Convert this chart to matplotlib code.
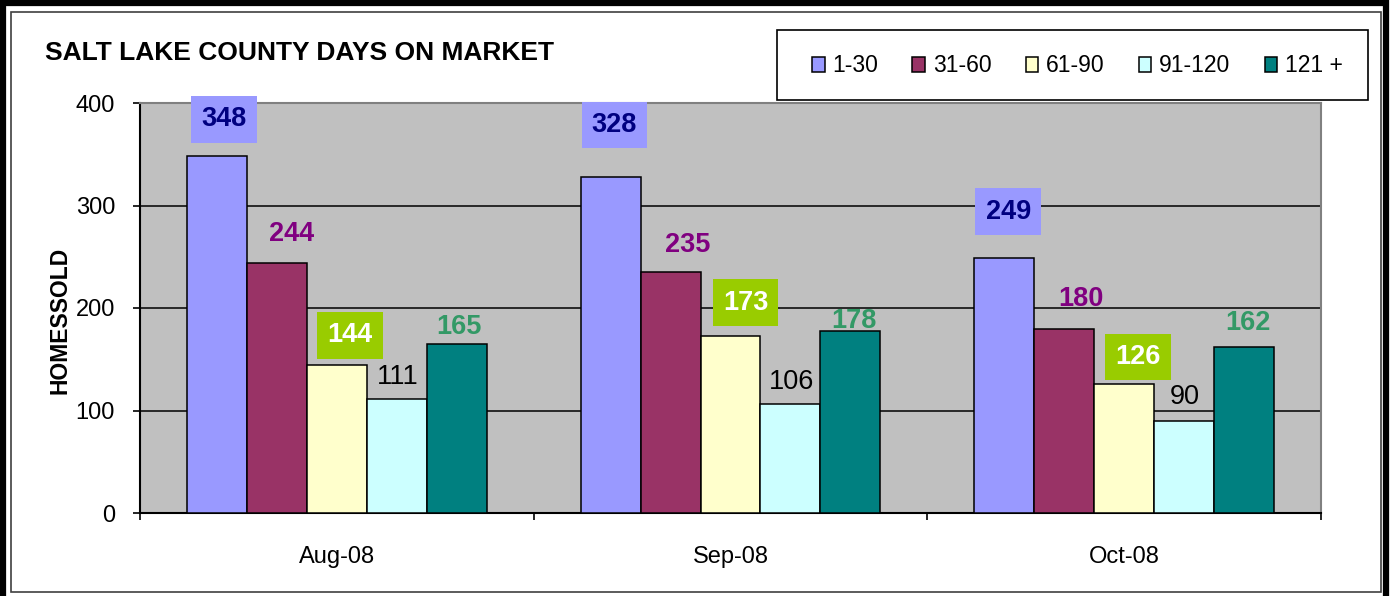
import matplotlib
matplotlib.use('Agg')
import matplotlib.pyplot as plt
import numpy as np
from matplotlib.patches import Rectangle

months = ['Aug-08', 'Sep-08', 'Oct-08']
ranges = ['1-30', '31-60', '61-90', '91-120', '121 +']
d1_30 = [348, 328, 249]
d31_60 = [244, 235, 180]
d61_90 = [144, 173, 126]
d91_120 = [111, 106, 90]
d121 = [165, 178, 162]
series = [d1_30, d31_60, d61_90, d91_120, d121]

colors = ['#9999FF', '#993366', '#FFFFCC', '#CCFFFF', '#008080']
# label styling per series: text colour, weight, box colour
label_style = [
    ('#000080', 'bold', '#9999FF'),
    ('#800080', 'bold', None),
    ('white', 'bold', '#99CC00'),
    ('black', 'normal', None),
    ('#339966', 'bold', None),
]
# where each label sits relative to its bar top (pixels)
label_offsets = [
    [(7, 37), (4, 52), (4, 46)],
    [(15, 29), (17, 27), (17, 29)],
    [(13, 30), (15, 33), (14, 27)],
    [(1, 22), (1, 22), (1, 24)],
    [(2, 17), (3, 10), (4, 24)],
]

plt.rcParams['font.family'] = ['Liberation Sans', 'DejaVu Sans']

W, H = 1390, 596
fig = plt.figure(figsize=(W / 100, H / 100), dpi=100)

# outer double frame
fig.patches.append(Rectangle((3 / W, -0.02), (1385.5 - 3) / W, 1.02 - 3 / H,
                             transform=fig.transFigure, fill=False,
                             edgecolor='black', linewidth=4.5))
fig.patches.append(Rectangle((11 / W, 1 - 592 / H), (1381 - 11) / W, (592 - 12) / H,
                             transform=fig.transFigure, fill=False,
                             edgecolor='#404040', linewidth=1.2))

ax = fig.add_axes([140 / W, 1 - 513 / H, (1321 - 140) / W, (513 - 103) / H])
ax.set_facecolor('#C0C0C0')

x = np.arange(len(months)) + 0.5
width = 0.762 / len(series)

for i, vals in enumerate(series):
    pos = x + (i - 2) * width
    bars = ax.bar(pos, vals, width, color=colors[i], edgecolor='black',
                  linewidth=1.1, label=ranges[i], zorder=3)
    tc, fw, bc = label_style[i]
    for rect, v, off in zip(bars, vals, label_offsets[i]):
        bbox = None
        if bc:
            bbox = dict(boxstyle='square,pad=0.38', facecolor=bc, edgecolor='none')
        ax.annotate(str(v), xy=(rect.get_x() + rect.get_width() / 2, v),
                    xytext=off, textcoords='offset pixels',
                    ha='center', va='center', fontsize=19.5, color=tc,
                    fontweight=fw, bbox=bbox, zorder=4)

ax.set_xlim(0, 3)
ax.set_ylim(0, 400)
ax.set_yticks([0, 100, 200, 300, 400])
ax.yaxis.grid(True, color='black', linewidth=1.1, zorder=1)
ax.set_axisbelow(True)
ax.tick_params(axis='y', direction='out', length=5, width=1.2, pad=13, labelsize=17)

ax.set_xticks([0, 1, 2, 3])
ax.set_xticklabels([])
ax.set_xticks(x, minor=True)
ax.set_xticklabels(months, minor=True)
ax.tick_params(axis='x', which='major', direction='out', length=5, width=1.2)
ax.tick_params(axis='x', which='minor', length=0, pad=24, labelsize=17)

for s in ['left', 'bottom']:
    ax.spines[s].set_color('black')
    ax.spines[s].set_linewidth(1.5)
for s in ['top', 'right']:
    ax.spines[s].set_color('#808080')
    ax.spines[s].set_linewidth(1.5)

ax.set_ylabel('HOMESSOLD', fontsize=16.5, fontweight='bold')
ax.yaxis.set_label_coords(-68 / (1321 - 140), 0.47)

fig.text(45 / W, 1 - 53 / H, 'SALT LAKE COUNTY DAYS ON MARKET',
         fontsize=19, fontweight='bold', ha='left', va='center')

# legend box
fig.patches.append(Rectangle((777 / W, 1 - 100 / H), (1368 - 777) / W, 70 / H,
                             transform=fig.transFigure, facecolor='white',
                             edgecolor='black', linewidth=1.2, zorder=5))
handles, labels = ax.get_legend_handles_labels()
leg = fig.legend(handles, labels, loc='center left', ncol=5, frameon=False,
                 bbox_to_anchor=(812 / W, 1 - 66 / H), fontsize=16.5,
                 handlelength=0.55, handleheight=0.6, handletextpad=0.35,
                 columnspacing=1.48, borderaxespad=0, borderpad=0)
leg.set_zorder(6)

fig.savefig('out.png', dpi=100)
